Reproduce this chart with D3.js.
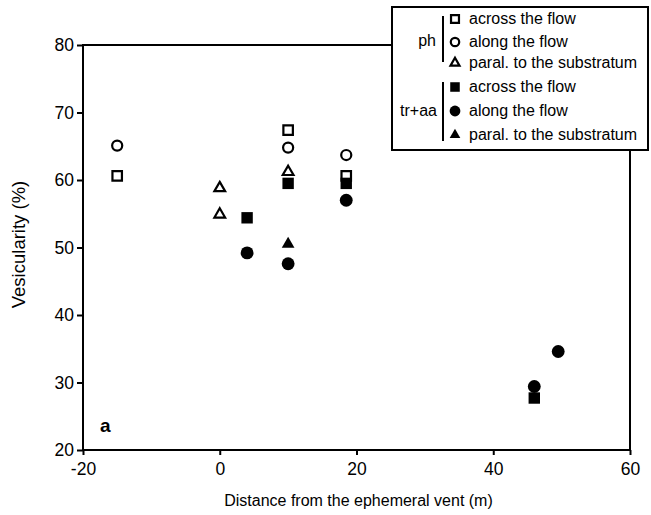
<!DOCTYPE html>
<html>
<head>
<meta charset="utf-8">
<script src="https://cdn.jsdelivr.net/npm/d3@7"></script>
<style>
  body { margin: 0; background: #fff; }
  text { font-family: "Liberation Sans", Arial, sans-serif; }
</style>
</head>
<body>
<div id="chart"></div>
<script>
// data: [distance (m), vesicularity (%)]
var phAcross = [[-15, 60.6], [10, 67.4], [18.5, 60.6]]
var phAlong = [[-15, 65.1], [10, 64.8], [18.5, 63.7]]
var phParal = [[0, 58.8], [0, 54.9], [10, 61.2]]
var trAcross = [[4, 54.4], [10, 59.5], [18.5, 59.5], [46, 27.7]]
var trAlong = [[4, 49.2], [10, 47.6], [18.5, 57.0], [46, 29.4], [49.5, 34.6]]
var trParal = [[10, 50.5]]

var xTicks = [-20, 0, 20, 40, 60]
var yTicks = [20, 30, 40, 50, 60, 70, 80]

var width = 651
var height = 515
var margin = { left: 83, right: 21, top: 45, bottom: 65 }

var svg = d3.select("#chart").append("svg")
  .attr("width", width)
  .attr("height", height)

var x = d3.scaleLinear().domain([-20, 60]).range([margin.left, width - margin.right])
var y = d3.scaleLinear().domain([20, 80]).range([height - margin.bottom, margin.top])

//frame
svg.append("rect")
  .attr("x", x(-20)).attr("y", y(80))
  .attr("width", x(60) - x(-20)).attr("height", y(20) - y(80))
  .attr("fill", "none").attr("stroke", "#000").attr("stroke-width", 2)

//bottom axis, major + minor
var xAxis = svg.append("g").attr("transform", "translate(0," + y(20) + ")")
xAxis.call(d3.axisBottom(x).tickValues(d3.range(-10, 60, 20)).tickSize(4).tickFormat(""))
xAxis.call(d3.axisBottom(x).tickValues(xTicks).tickSize(5).tickPadding(8)
  .tickFormat(function (d) { return d }))
xAxis.selectAll(".domain").remove()
xAxis.selectAll("line").attr("stroke-width", 2)
xAxis.selectAll("text").attr("font-size", 17.5).attr("fill", "#000")
  .attr("font-family", "Liberation Sans, Arial, sans-serif")

var yAxis = svg.append("g").attr("transform", "translate(" + x(-20) + ",0)")
yAxis.call(d3.axisLeft(y).tickValues(d3.range(25, 80, 10)).tickSize(4).tickFormat(""))
yAxis.call(d3.axisLeft(y).tickValues(yTicks).tickSize(6).tickPadding(3)
  .tickFormat(function (d) { return d }))
yAxis.selectAll(".domain").remove()
yAxis.selectAll("line").attr("stroke-width", 2)
yAxis.selectAll("text").attr("font-size", 17.5).attr("fill", "#000")
  .attr("font-family", "Liberation Sans, Arial, sans-serif")

svg.append("text")
  .attr("x", (x(-20) + x(60)) / 2 + 2).attr("y", 506)
  .attr("text-anchor", "middle").attr("font-size", 16)
  .text("Distance from the ephemeral vent (m)")

svg.append("text")
  .attr("transform", "translate(25," + (y(50) - 3) + ") rotate(-90)")
  .attr("text-anchor", "middle").attr("font-size", 18.5)
  .text("Vesicularity (%)")

svg.append("text")
  .attr("x", 100).attr("y", 432)
  .attr("font-family", "Liberation Serif, Times New Roman, serif")
  .attr("font-weight", "bold").attr("font-size", 19)
  .text("a")

//markers
function sym(type, size) { return d3.symbol().type(type).size(size) }

var series = [
  { data: phAcross, type: d3.symbolSquare, size: 90, fill: false },
  { data: phAlong, type: d3.symbolCircle, size: 80, fill: false },
  { data: phParal, type: d3.symbolTriangle, size: 50, fill: false },
  { data: trAcross, type: d3.symbolSquare, size: 130, fill: true },
  { data: trAlong, type: d3.symbolCircle, size: 130, fill: true },
  { data: trParal, type: d3.symbolTriangle, size: 70, fill: true }
]

series.forEach(function (s) {
  svg.append("g").selectAll("path")
    .data(s.data)
    .enter()
    .append("path")
    .attr("transform", function (d) { return "translate(" + x(d[0]) + "," + y(d[1]) + ")" })
    .attr("d", sym(s.type, s.size))
    .attr("fill", s.fill ? "#000" : "#fff")
    .attr("stroke", "#000")
    .attr("stroke-width", s.fill ? 0 : 2.2)
})

//legend
var lg = svg.append("g")
lg.append("rect")
  .attr("x", 392).attr("y", 7).attr("width", 256).attr("height", 143)
  .attr("fill", "#fff").attr("stroke", "#000").attr("stroke-width", 2)

var legendRows = [
  { label: "across the flow", s: series[0], y: 19 },
  { label: "along the flow", s: series[1], y: 42 },
  { label: "paral. to the substratum", s: series[2], y: 63 },
  { label: "across the flow", s: series[3], y: 87 },
  { label: "along the flow", s: series[4], y: 111 },
  { label: "paral. to the substratum", s: series[5], y: 135 }
]

legendRows.forEach(function (r) {
  lg.append("path")
    .attr("transform", "translate(455," + r.y + ")")
    .attr("d", sym(r.s.type, r.s.size * 0.7))
    .attr("fill", r.s.fill ? "#000" : "#fff")
    .attr("stroke", "#000")
    .attr("stroke-width", r.s.fill ? 0 : 2.2)
  lg.append("text")
    .attr("x", 469).attr("y", r.y + 5)
    .attr("font-size", 16)
    .text(r.label)
})

lg.append("line").attr("x1", 443).attr("x2", 443).attr("y1", 16).attr("y2", 62)
  .attr("stroke", "#000").attr("stroke-width", 2)
lg.append("line").attr("x1", 443).attr("x2", 443).attr("y1", 82).attr("y2", 141)
  .attr("stroke", "#000").attr("stroke-width", 2)
lg.append("text").attr("x", 436).attr("y", 46).attr("text-anchor", "end")
  .attr("font-size", 16).text("ph")
lg.append("text").attr("x", 437).attr("y", 116).attr("text-anchor", "end")
  .attr("font-size", 16).text("tr+aa")
</script>
</body>
</html>
